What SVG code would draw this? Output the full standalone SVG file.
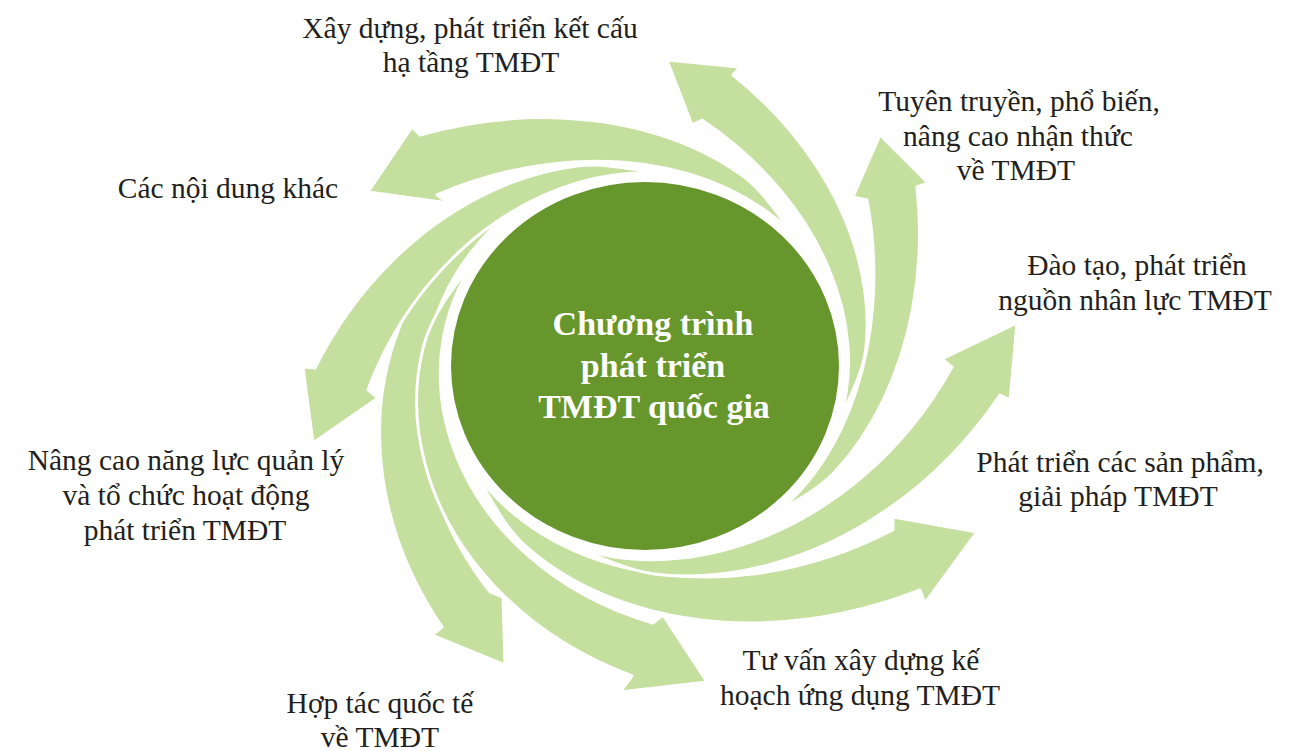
<svg xmlns="http://www.w3.org/2000/svg" width="1306" height="751" viewBox="0 0 1306 751">
<style>
.arr{fill:#c5df9f;stroke:#fff;stroke-width:3;stroke-linejoin:round;vector-effect:non-scaling-stroke}
.lbl{font-family:"Liberation Serif","Times New Roman",serif;font-size:29.5px;fill:#231f20;text-anchor:middle}
.ttl{font-family:"Liberation Serif","Times New Roman",serif;font-size:34px;font-weight:bold;fill:#fff;text-anchor:middle}
</style>
<rect width="1306" height="751" fill="#fff"/>
<g id="connectors" transform="translate(645 366) scale(1 0.95)">
<path id="arrow-g2" class="arr" d="M -88.7 -190.3 C -122.4 -174.6 -151.9 -149.8 -174.1 -119.6 C -196.3 -89.4 -211.3 -53.9 -218.7 -15.5 C -226.1 22.9 -225.7 64.3 -216.0 107.2 C -206.3 150.1 -187.1 194.8 -155.0 237.8 L -142 243.2 L -140 314.7 L -213 283.2 L -203 274.7 C -237.3 221.6 -255.6 167.4 -262.4 116.3 C -269.2 65.2 -264.4 17.1 -251.0 -25.3 C -237.6 -67.7 -215.7 -104.7 -187.6 -133.4 C -159.5 -162.1 -121.5 -175.0 -88.7 -190.3 Z"/>
<path id="arrow-f" class="arr" d="M -164.2 -119.3 C -186.4 -88.8 -199.8 -52.3 -203.6 -14.6 C -207.4 23.1 -201.6 62.1 -187.0 98.8 C -172.4 135.5 -148.8 170.3 -116.4 200.1 C -84.0 229.9 -42.7 255.1 8.0 270.5 L 18 262.1 L 62 332.6 L -25 343.2 L -13 326.3 C -71.0 303.3 -116.9 269.5 -151.1 231.0 C -185.3 192.5 -207.8 149.4 -219.2 106.2 C -230.6 63.0 -231.2 19.6 -221.7 -19.8 C -212.2 -59.2 -185.7 -89.8 -164.2 -119.3 Z"/>
<path id="arrow-e" class="arr" d="M -173.5 105.5 C -156.0 134.2 -131.4 158.4 -102.9 176.8 C -74.4 195.2 -42.1 208.0 -6.6 215.3 C 28.9 222.6 67.5 224.5 110.0 218.7 C 152.5 212.9 199.1 199.4 248.0 172.4 L 248 158.9 L 332 174.7 L 280 249.5 L 275 235.8 C 216.0 260.1 160.9 269.7 111.5 270.4 C 62.1 271.1 18.0 263.0 -20.3 249.1 C -58.6 235.2 -91.5 215.3 -117.9 190.9 C -144.3 166.5 -156.9 132.8 -173.5 105.5 Z"/>
<path id="arrow-d" class="arr" d="M -76.0 188.2 C -45.4 200.6 -12.1 205.3 21.2 203.5 C 54.5 201.7 87.7 193.5 120.5 179.3 C 153.3 165.1 185.9 145.0 217.7 116.5 C 249.5 88.0 280.8 50.9 307 1.1 L 297 -7.4 L 372 -45.3 L 365 35.8 L 355 30.5 C 321.1 83.2 282.2 121.9 243.4 150.3 C 204.6 178.7 165.6 197.0 127.8 208.2 C 90.0 219.4 53.3 223.2 18.5 220.1 C -16.3 217.0 -46.7 200.0 -76.0 188.2 Z"/>
<path id="arrow-b" class="arr" d="M 125.0 160.0 C 146.0 143.6 163.5 123.1 177.8 100.4 C 192.1 77.7 203.1 52.7 211.4 25.6 C 219.7 -1.5 225.3 -30.9 227.7 -63.8 C 230.1 -96.7 229.3 -133.3 222.0 -174.7 L 208 -177.9 L 235 -243.2 L 283 -192.6 L 272 -188.4 C 276.8 -140.9 274.3 -99.0 267.9 -61.9 C 261.5 -24.8 251.1 7.5 238.0 36.2 C 224.9 64.9 208.9 89.9 190.1 111.1 C 171.3 132.3 145.2 144.2 125.0 160.0 Z"/>
<path id="arrow-a" class="arr" d="M 193.1 62.7 C 201.8 35.9 204.9 7.3 202.9 -21.0 C 200.9 -49.3 194.1 -77.4 182.9 -104.8 C 171.7 -132.2 156.2 -158.8 135.7 -184.7 C 115.2 -210.6 89.6 -235.8 56.9 -258.9 L 47 -253.7 L 22 -322.1 L 95 -314.7 L 88 -306.3 C 123.5 -276.3 150.6 -243.8 171.0 -211.2 C 191.4 -178.6 205.1 -145.7 213.2 -113.4 C 221.3 -81.1 224.0 -49.3 220.9 -19.3 C 217.8 10.7 201.5 36.8 193.1 62.7 Z"/>
<path id="arrow-h" class="arr" d="M 153.0 -133.5 C 134.0 -155.3 110.3 -172.9 84.3 -185.9 C 58.3 -198.9 29.8 -207.5 -0.4 -212.0 C -30.6 -216.5 -62.7 -216.8 -97.2 -212.2 C -131.7 -207.6 -168.7 -197.9 -208.0 -180.1 L -197 -171.6 L -277 -183.2 L -233 -251.6 L -225 -243.2 C -177.9 -257.1 -134.3 -262.1 -94.6 -261.4 C -54.9 -260.7 -19.1 -254.5 13.0 -244.0 C 45.1 -233.5 73.6 -218.6 97.6 -200.1 C 121.6 -181.6 135.2 -153.9 153.0 -133.5 Z"/>
<path id="arrow-g" class="arr" d="M 21.9 -201.8 C -7.8 -205.0 -38.2 -201.7 -67.0 -192.9 C -95.8 -184.1 -123.3 -170.1 -148.9 -151.5 C -174.5 -132.9 -198.4 -109.8 -220.3 -80.9 C -242.2 -52.0 -262.1 -17.4 -277.1 25.2 L -267 33.7 L -332 81.1 L -342 1.1 L -330 2.1 C -308.1 -44.2 -281.0 -81.4 -252.4 -111.1 C -223.8 -140.8 -193.4 -163.2 -162.3 -179.6 C -131.2 -196.0 -99.5 -206.4 -68.2 -210.5 C -36.9 -214.6 -6.4 -204.9 21.9 -201.8 Z"/>
</g>
<g id="center">
<ellipse cx="645" cy="366" rx="197" ry="187" fill="#67962c" stroke="#fff" stroke-width="6"/>
<text class="ttl"><tspan x="653" y="335">Chương trình</tspan><tspan x="653" y="377">phát triển</tspan><tspan x="654" y="418">TMĐT quốc gia</tspan></text>
</g>
<g id="label-xay-dung"><text class="lbl"><tspan x="470" y="38">Xây dựng, phát triển kết cấu</tspan><tspan x="471" y="72">hạ tầng TMĐT</tspan></text></g>
<g id="label-tuyen-truyen"><text class="lbl"><tspan x="1019" y="111">Tuyên truyền, phổ biến,</tspan><tspan x="1018" y="146">nâng cao nhận thức</tspan><tspan x="1016" y="180">về TMĐT</tspan></text></g>
<g id="label-dao-tao"><text class="lbl"><tspan x="1137" y="275">Đào tạo, phát triển</tspan><tspan x="1135" y="310">nguồn nhân lực TMĐT</tspan></text></g>
<g id="label-san-pham"><text class="lbl"><tspan x="1120" y="472">Phát triển các sản phẩm,</tspan><tspan x="1118" y="506">giải pháp TMĐT</tspan></text></g>
<g id="label-tu-van"><text class="lbl"><tspan x="861" y="670">Tư vấn xây dựng kế</tspan><tspan x="860" y="705">hoạch ứng dụng TMĐT</tspan></text></g>
<g id="label-hop-tac"><text class="lbl"><tspan x="380" y="713">Hợp tác quốc tế</tspan><tspan x="380" y="747">về TMĐT</tspan></text></g>
<g id="label-nang-cao"><text class="lbl"><tspan x="186" y="470">Nâng cao năng lực quản lý</tspan><tspan x="186" y="505">và tổ chức hoạt động</tspan><tspan x="185" y="540">phát triển TMĐT</tspan></text></g>
<g id="label-khac"><text class="lbl"><tspan x="228" y="198">Các nội dung khác</tspan></text></g>
</svg>
